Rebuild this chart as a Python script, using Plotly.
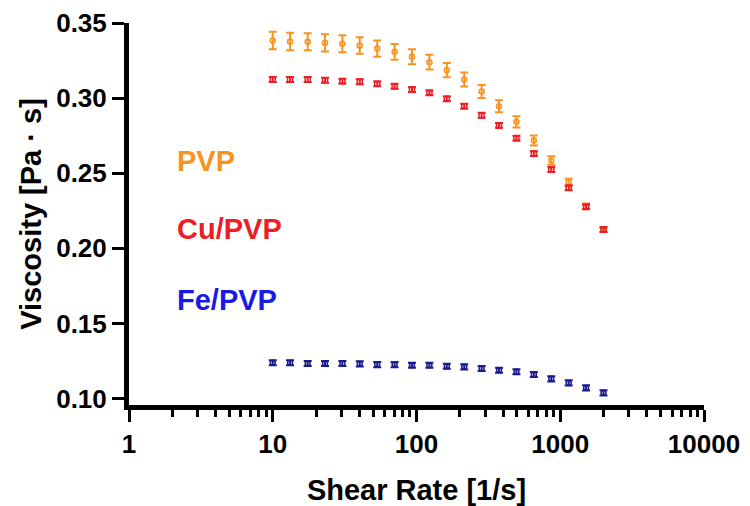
import plotly.graph_objects as go

shear_rate = [10.0, 13.2, 17.5, 23.1, 30.5, 40.3, 53.3, 70.4, 93.0, 123.0,
              162.5, 214.8, 283.9, 375.2, 495.8, 655.3, 866.0, 1144.5, 1512.6, 2000.0]

pvp = [0.3383, 0.3377, 0.3375, 0.3368, 0.3362, 0.3350, 0.3330, 0.3308, 0.3275, 0.3239,
       0.3186, 0.3124, 0.3044, 0.2946, 0.2842, 0.2718, 0.2585, 0.2440, 0.2280, 0.2125]
pvp_err = [0.0058, 0.0058, 0.0057, 0.0057, 0.0056, 0.0055, 0.0054, 0.0052, 0.0050, 0.0049,
           0.0047, 0.0046, 0.0044, 0.0040, 0.0037, 0.0033, 0.0028, 0.0023, 0.0018, 0.0014]

cu = [0.3124, 0.3124, 0.3124, 0.3119, 0.3113, 0.3109, 0.3095, 0.3079, 0.3057, 0.3035,
      0.2995, 0.2946, 0.2886, 0.2818, 0.2733, 0.2631, 0.2524, 0.2403, 0.2276, 0.2125]
cu_err = [0.0016] * 20

fe = [0.1238, 0.1238, 0.1233, 0.1233, 0.1233, 0.1231, 0.1226, 0.1226, 0.1222, 0.1222,
      0.1215, 0.1211, 0.1200, 0.1188, 0.1178, 0.1160, 0.1131, 0.1104, 0.1071, 0.1038]
fe_err = [0.0017] * 20

series_names = ["PVP", "Cu/PVP", "Fe/PVP"]
data_colors = ["#F7931E", "#EE1C24", "#1B1B8F"]
label_colors = ["#F7931E", "#EE1C24", "#1A1AE6"]
markers = ["circle-open", "square-open", "circle-open"]

x_tickvals = [1, 10, 100, 1000, 10000]
x_ticktext = ["1", "10", "100", "1000", "10000"]
y_tickvals = [0.10, 0.15, 0.20, 0.25, 0.30, 0.35]
y_ticktext = ["0.10", "0.15", "0.20", "0.25", "0.30", "0.35"]

FONT = "Liberation Sans"

fig = go.Figure()
for name, ys, errs, col, mk in zip(series_names, [pvp, cu, fe], [pvp_err, cu_err, fe_err],
                                   data_colors, markers):
    fig.add_trace(go.Scatter(
        x=shear_rate, y=ys, mode="markers", name=name,
        marker=dict(symbol=mk, size=5, color=col, line=dict(width=1.5, color=col)),
        error_y=dict(type="data", array=errs, visible=True, color=col, thickness=2, width=4),
        showlegend=False,
    ))

label_y = [0.6396, 0.4613, 0.2752]
for name, col, yy in zip(series_names, label_colors, label_y):
    fig.add_annotation(text=name, xref="paper", yref="paper", x=0.08, y=yy,
                       xanchor="left", yanchor="middle", showarrow=False,
                       font=dict(family=FONT, size=29, color=col, weight="bold"))

fig.update_layout(
    width=750, height=506,
    margin=dict(l=129, r=46, t=23, b=101),
    paper_bgcolor="white", plot_bgcolor="white",
    font=dict(family=FONT, color="black"),
)
fig.update_xaxes(
    type="log", range=[0, 4], automargin=False,
    tickvals=x_tickvals, ticktext=x_ticktext,
    showline=True, linewidth=5, linecolor="black",
    ticks="outside", ticklen=12, tickwidth=3, tickcolor="black",
    minor=dict(ticks="outside", ticklen=7, tickwidth=3, tickcolor="black", dtick="D1", showgrid=False),
    showgrid=False, zeroline=False,
    tickfont=dict(family=FONT, size=26, weight="bold"),
    title=dict(text="Shear Rate [1/s]", font=dict(family=FONT, size=29, weight="bold"), standoff=25),
)
fig.update_yaxes(
    range=[0.0957, 0.35], automargin=False,
    tickvals=y_tickvals, ticktext=y_ticktext,
    showline=True, linewidth=5, linecolor="black",
    ticks="outside", ticklen=12, tickwidth=3, tickcolor="black",
    showgrid=False, zeroline=False,
    tickfont=dict(family=FONT, size=26, weight="bold"),
    title=dict(text="Viscosity [Pa · s]", font=dict(family=FONT, size=29, weight="bold"), standoff=8),
)

fig.write_html("out.html")
